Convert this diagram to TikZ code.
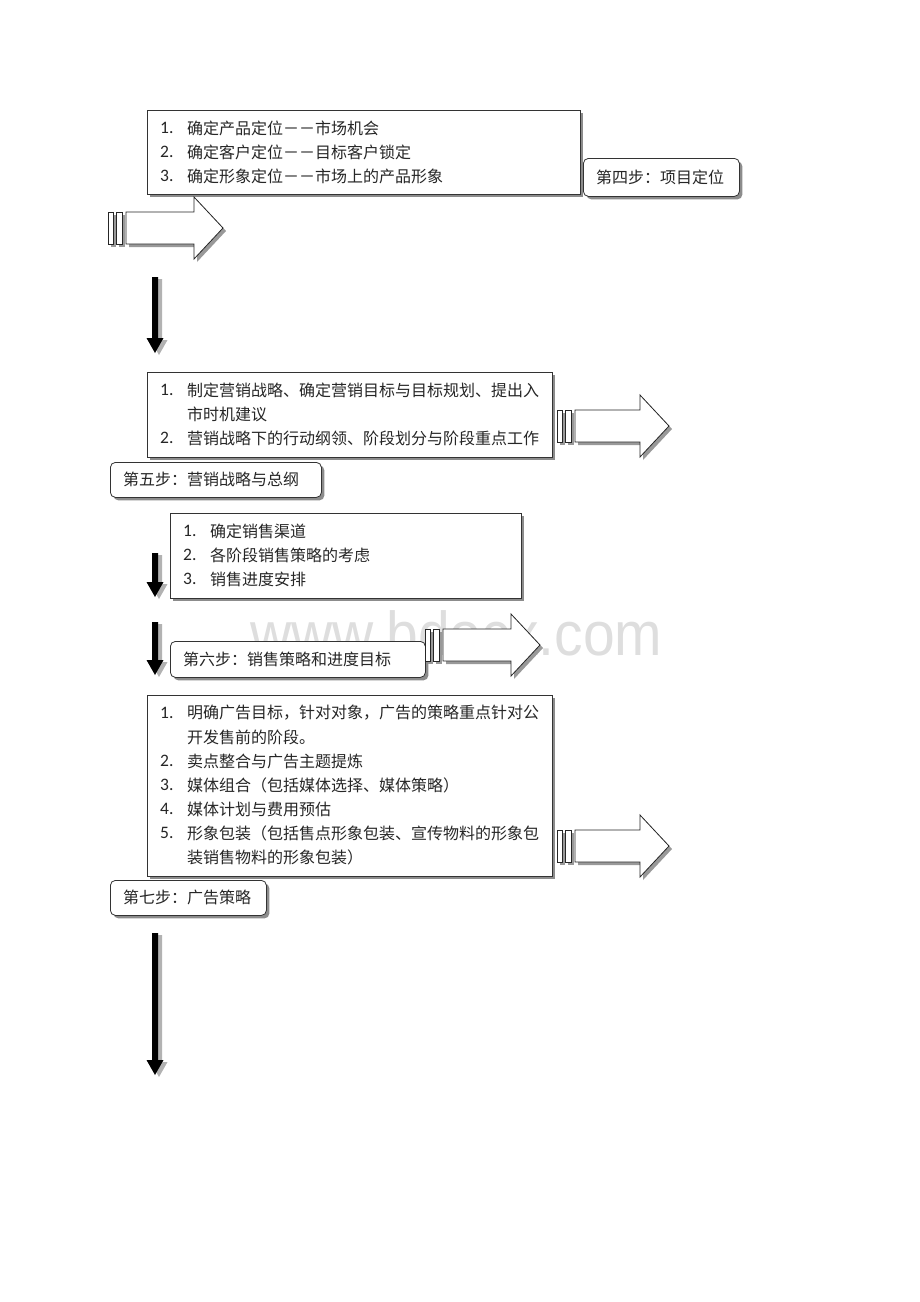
\documentclass[tikz,border=0pt]{standalone}
\usepackage{fontspec}
\setmainfont{Noto Sans CJK SC}
\newfontfamily\numfont{Carlito}
\newfontfamily\wmfont{Liberation Sans}
\usetikzlibrary{shadows}
% x0, centre y, total length
\newcommand\strarrow[3]{%
  \begin{scope}[shift={(#1,#2)}]
    \draw[arr] (0,-16) rectangle (5,16);
    \draw[arr] (8,-16) rectangle (14,16);
    \draw[arr] (18,-16) -- (#3-29,-16) -- (#3-29,-31) -- (#3,0) -- (#3-29,31) -- (#3-29,16) -- (18,16) -- cycle;
  \end{scope}}
\newcommand\dnarrow[2]{%
  \fill[darr] (152,#1) -- (158,#1) -- (158,#2-15) -- (163.5,#2-15) -- (155,#2) -- (146.5,#2-15) -- (152,#2-15) -- cycle;}
\begin{document}
\begin{tikzpicture}[x=1pt,y=-1pt,
  box/.style={draw=black!80, line width=0.8pt, fill=white,
    drop shadow={shadow xshift=3pt,shadow yshift=-3pt,fill=black!45,opacity=1},
    inner sep=0pt, anchor=north west},
  lab/.style={box, rounded corners=5pt},
  txt/.style={anchor=west, inner sep=0pt, text=black!85, font=\fontsize{16pt}{24pt}\selectfont},
  num/.style={txt, font=\fontsize{17.5pt}{24pt}\numfont},
  arr/.style={draw=black!85, line width=0.8pt, fill=white,
    drop shadow={shadow xshift=3pt,shadow yshift=-3pt,fill=black!40,opacity=1}},
  darr/.style={fill=black,
    drop shadow={shadow xshift=4pt,shadow yshift=-2pt,fill=black!30,opacity=1}},
]
\useasboundingbox (0,0) rectangle (920,1302);

% ---------- watermark (behind) ----------
\node[anchor=base west, inner sep=0pt, text=black!13, xscale=0.92,
  font=\fontsize{62pt}{62pt}\wmfont] (wm) at (250,655) {www.bdocx.com};

% ---------- step 4 ----------
\node[box, minimum width=433pt, minimum height=84pt] (b1) at (147,110) {};
\node[num] (n11) at (160,128) {1.};
\node[txt] (t11) at (187,128) {确定产品定位－－市场机会};
\node[num] (n12) at (160,152) {2.};
\node[txt] (t12) at (187,152) {确定客户定位－－目标客户锁定};
\node[num] (n13) at (160,176) {3.};
\node[txt] (t13) at (187,176) {确定形象定位－－市场上的产品形象};
\node[lab, minimum width=156pt, minimum height=38pt] (l4) at (583,158) {};
\node[txt] (l4t) at (596,177) {第四步：项目定位};
\strarrow{108}{228}{115}
\dnarrow{277}{353}

% ---------- step 5 ----------
\node[box, minimum width=405pt, minimum height=85pt] (b2) at (147,372) {};
\node[num] (n21) at (160,390) {1.};
\node[txt] (t21) at (187,390) {制定营销战略、确定营销目标与目标规划、提出入};
\node[txt] (t21b) at (187,414) {市时机建议};
\node[num] (n22) at (160,438) {2.};
\node[txt] (t22) at (187,438) {营销战略下的行动纲领、阶段划分与阶段重点工作};
\strarrow{557}{426}{112}
\node[lab, minimum width=211pt, minimum height=35pt] (l5) at (110,462) {};
\node[txt] (l5t) at (123,479.5) {第五步：营销战略与总纲};

% ---------- step 6 ----------
\node[box, minimum width=351pt, minimum height=85pt] (b3) at (170,513) {};
\node[num] (n31) at (183,531) {1.};
\node[txt] (t31) at (210,531) {确定销售渠道};
\node[num] (n32) at (183,555) {2.};
\node[txt] (t32) at (210,555) {各阶段销售策略的考虑};
\node[num] (n33) at (183,579) {3.};
\node[txt] (t33) at (210,579) {销售进度安排};
\dnarrow{553}{597}
\dnarrow{622}{675}
\node[lab, minimum width=255pt, minimum height=36pt] (l6) at (170,641) {};
\node[txt] (l6t) at (183,659) {第六步：销售策略和进度目标};
\strarrow{425}{645}{115}

% ---------- step 7 ----------
\node[box, minimum width=405pt, minimum height=181pt] (b4) at (147,695) {};
\node[num] (n41) at (160,713) {1.};
\node[txt] (t41) at (187,713) {明确广告目标，针对对象，广告的策略重点针对公};
\node[txt] (t41b) at (187,737) {开发售前的阶段。};
\node[num] (n42) at (160,761) {2.};
\node[txt] (t42) at (187,761) {卖点整合与广告主题提炼};
\node[num] (n43) at (160,785) {3.};
\node[txt] (t43) at (187,785) {媒体组合（包括媒体选择、媒体策略）};
\node[num] (n44) at (160,809) {4.};
\node[txt] (t44) at (187,809) {媒体计划与费用预估};
\node[num] (n45) at (160,833) {5.};
\node[txt] (t45) at (187,833) {形象包装（包括售点形象包装、宣传物料的形象包};
\node[txt] (t45b) at (187,857) {装销售物料的形象包装）};
\strarrow{557}{846}{112}
\node[lab, minimum width=156pt, minimum height=35pt] (l7) at (110,880) {};
\node[txt] (l7t) at (123,897.5) {第七步：广告策略};
\dnarrow{933}{1075}
\end{tikzpicture}
\end{document}
